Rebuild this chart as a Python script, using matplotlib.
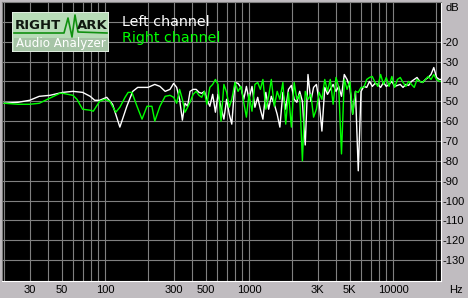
import matplotlib
matplotlib.use('Agg')
import matplotlib.pyplot as plt
from matplotlib.patches import Rectangle

# frequency response (Hz, dB)
low_freq_left = [20, 25, 30, 35, 41.5, 51, 60, 70, 79, 85, 92, 103, 113, 127, 142,
                 156, 169, 199, 222, 241, 262, 283]
low_db_left = [-51, -50.5, -49.5, -47.5, -47, -45.5, -45, -45.5, -47.5, -49.5, -49.5,
               -48, -51.5, -63, -52.5, -45, -43, -43, -41.5, -42.5, -45, -44]

low_freq_right = [20, 25, 30, 35, 48.7, 51, 60, 64, 70, 79, 83, 92, 100, 108, 119,
                  127, 138, 145, 154, 167, 181, 196, 212, 222, 241, 262, 283]
low_db_right = [-51, -51.5, -51.5, -51, -46, -46, -47, -49, -54, -54.5, -55, -50, -49,
                -50, -55.5, -53, -48, -45.5, -45.5, -52.5, -59, -52.5, -52.5, -60,
                -52.5, -47.5, -47]

hi_freq = [300, 315, 330, 345, 360, 375, 390, 410, 430, 450, 470, 490, 510, 535, 560,
           585, 610, 640, 670, 700, 730, 760, 800, 840, 880, 920, 960, 1000, 1050,
           1100, 1150, 1200, 1250, 1310, 1370, 1430, 1500, 1570, 1640, 1720, 1800,
           1880, 1970, 2060, 2150, 2250, 2350, 2460, 2570, 2690, 2810, 2940, 3070,
           3210, 3360, 3510, 3670, 3840, 4020, 4200, 4390, 4590, 4800, 5020, 5250,
           5490, 5740, 6000, 6280, 6570, 6870, 7180, 7510, 7850, 8210, 8590, 8980,
           9390, 9820, 10270, 10740, 11230, 11740, 12280, 12840, 13430, 14040, 14680,
           15350, 16050, 16790, 17560, 18360, 19200, 20080, 21000, 21500]

hi_db_left = [-41, -43, -49, -59.5, -51, -52.5, -45, -44, -44, -45.5, -46, -45, -49,
              -52.5, -46.5, -55.5, -46.5, -53, -59, -49, -56.5, -61.5, -40.5, -41, -43,
              -49, -42.5, -49, -42.5, -53, -48, -54, -59, -45.5, -54, -47.5, -51.5,
              -56.5, -63, -45.5, -54, -44, -42, -49, -50.5, -45, -50, -72, -36.5, -50,
              -43, -41.5, -50, -65, -43, -46.5, -44, -41.5, -45, -42.5, -47.5, -36.5,
              -39, -43, -56.5, -45, -85, -45, -42.5, -43, -40, -42.5, -41, -41.5, -43,
              -40.5, -42.5, -41.5, -40, -42.5, -42, -41.5, -43, -41.5, -42, -40, -39,
              -38, -40, -40.5, -39, -38, -36.5, -33, -38, -39, -39]

hi_db_right = [-48, -51, -44, -49, -55.5, -53, -50.5, -46.5, -45, -47, -48, -45, -51.5,
               -43, -41.5, -39, -41.5, -60, -41.5, -45.5, -53, -49, -40.5, -45, -42.5,
               -50.5, -58, -46.5, -55, -41.5, -40.5, -44, -39, -54, -47.5, -39, -52.5,
               -45, -49, -40.5, -61.5, -45.5, -63, -40.5, -49, -46.5, -80, -45, -49,
               -46.5, -58, -54, -45.5, -49, -39, -45, -39, -51.5, -38, -43, -76.5, -39,
               -44, -40, -56.5, -45, -45.5, -43, -43, -39, -38, -37.5, -40.5, -42.5,
               -36.5, -41.5, -38, -42.5, -37.5, -43, -39, -38, -40.5, -42.5, -40, -41.5,
               -43, -39, -40, -40.5, -39, -37.5, -39, -36.5, -39, -40, -40]

grid_freqs = [20, 30, 40, 50, 60, 70, 80, 90, 100, 200, 300, 400, 500, 600, 700, 800,
              900, 1000, 2000, 3000, 4000, 5000, 6000, 7000, 8000, 9000, 10000, 20000]
x_labels = {30: '30', 50: '50', 100: '100', 300: '300', 500: '500', 1000: '1000',
            3000: '3K', 5000: '5K', 10000: '10000'}
db_ticks = [-10, -20, -30, -40, -50, -60, -70, -80, -90, -100, -110, -120, -130]

W, H = 468, 298
fig = plt.figure(figsize=(W / 100, H / 100), dpi=100, facecolor='#c0bcc0')
ax = fig.add_axes([2 / W, 17 / H, 439 / W, 279 / H])
ax.set_facecolor('black')

ax.plot(low_freq_left + hi_freq, low_db_left + hi_db_left, color='white', lw=1.0)
ax.plot(low_freq_right + hi_freq, low_db_right + hi_db_right, color='#00ff00', lw=1.0)

ax.set_xscale('log')
ax.set_xlim(19.3, 21544)
ax.set_ylim(-140.5, 0)

ax.set_xticks(grid_freqs)
ax.set_xticklabels([x_labels.get(f, '') for f in grid_freqs])
ax.xaxis.set_minor_locator(plt.NullLocator())
ax.set_yticks(db_ticks)
ax.set_yticklabels(['' if v == -10 else str(v) for v in db_ticks])
ax.yaxis.tick_right()
ax.tick_params(axis='both', length=0, labelsize=8, labelcolor='black')
ax.tick_params(axis='x', pad=3)
ax.tick_params(axis='y', pad=1)
for lab in ax.get_xticklabels() + ax.get_yticklabels():
    lab.set_family('Liberation Sans')
ax.grid(True, color='#808080', lw=0.8)
ax.set_axisbelow(True)

ax.spines['top'].set_color('#808080')
ax.spines['left'].set_color('#808080')
ax.spines['bottom'].set_color('white')
ax.spines['right'].set_color('white')

fig.text(445 / W, 1 - 8 / H, 'dB', fontsize=8, family='Liberation Sans', va='center')
fig.text(449 / W, 1 - 290 / H, 'Hz', fontsize=8, family='Liberation Sans', va='center')

# legend texts
ax.text(122 / W, 1 - 22 / H, 'Left channel', transform=fig.transFigure,
        color='white', fontsize=10.3, va='center')
ax.text(122 / W, 1 - 38 / H, 'Right channel', transform=fig.transFigure,
        color='#00ff00', fontsize=10.3, va='center')

# RightMark logo
lg = fig.add_axes([12 / W, 1 - 52 / H, 97 / W, 40 / H])
lg.set_xlim(0, 97)
lg.set_ylim(40, 0)
lg.axis('off')
lg.add_patch(Rectangle((0, 0), 97, 40, facecolor='#b8dcb8', edgecolor='#e8f0e8', lw=1.2))
lg.add_patch(Rectangle((1.5, 26), 94, 12.5, facecolor='#a6c4a6', edgecolor='none'))
lg.plot([2, 52, 56, 60, 63, 66, 95], [21, 21, 6, 25, 3, 20, 21], color='#109010', lw=1.2)
lg.text(3, 13.5, 'RIGHT', fontsize=9.5, fontweight='bold', color='#101810', va='center')
lg.text(65, 13.5, 'ARK', fontsize=9.5, fontweight='bold', color='#101810', va='center')
lg.text(48.5, 32, 'Audio Analyzer', fontsize=8.6, color='white', va='center', ha='center')

fig.savefig('out.png', dpi=100, facecolor=fig.get_facecolor())
